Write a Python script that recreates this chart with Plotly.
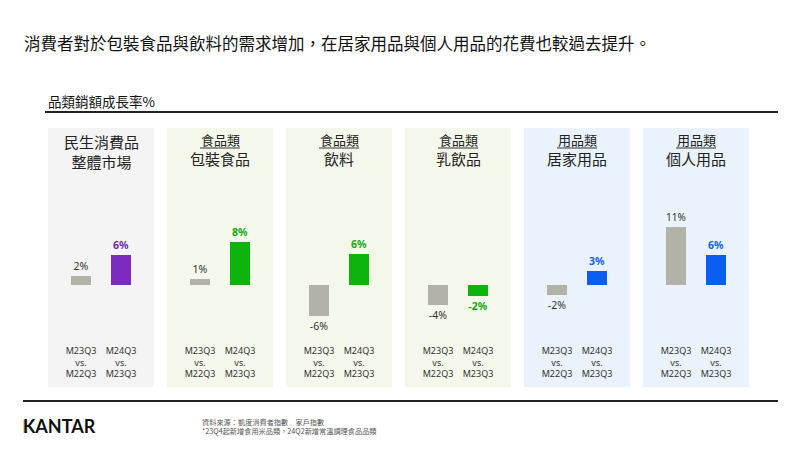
import plotly.graph_objects as go

# ---------------- data ----------------
panel_top = ["", "食品類", "食品類", "食品類", "用品類", "用品類"]
panel_main = ["民生消費品<br>整體市場", "包裝食品", "飲料", "乳飲品", "居家用品", "個人用品"]
periods = ["M23Q3<br>vs.<br>M22Q3", "M24Q3<br>vs.<br>M23Q3"]
prev_growth = [1.7, 1.1, -5.8, -3.8, -1.9, 10.9]
curr_growth = [5.7, 8.2, 5.8, -2.1, 2.6, 5.6]
prev_labels = ["2%", "1%", "-6%", "-4%", "-2%", "11%"]
curr_labels = ["6%", "8%", "6%", "-2%", "3%", "6%"]

# ---------------- styles ----------------
W, H = 800, 450
grey_bar = "#B2B2A7"
accent = ["#7B2CBF", "#0DB30D", "#0DB30D", "#0DB30D", "#0A5EF0", "#0A5EF0"]
accent_text = ["#6E2AAE", "#12A812", "#12A812", "#12A812", "#1560E8", "#1560E8"]
panel_bg = ["#F4F4F4", "#F4F8EB", "#F4F8EB", "#F4F8EB", "#E9F2FD", "#E9F2FD"]
CJK = "Noto Sans CJK TC"
LAT = "Noto Sans"

def px_x(v):
    return v / W

def px_y(v):
    return 1 - v / H

panel_left0, panel_step, panel_w = 48, 119, 106
panel_y0, panel_y1 = 128, 387
plot_y0, plot_y1 = 128, 344
px_per_pct = 5.3
zero_px = 285
y_hi = (zero_px - plot_y0) / px_per_pct
y_lo = -(plot_y1 - zero_px) / px_per_pct
x_half = panel_w / 40 / 2

fig = go.Figure()
shapes = []
annotations = []

for i in range(6):
    n = "" if i == 0 else str(i + 1)
    left = panel_left0 + i * panel_step
    fig.add_trace(go.Bar(
        x=periods,
        y=[prev_growth[i], curr_growth[i]],
        text=[prev_labels[i], curr_labels[i]],
        texttemplate=["%{text}", "<b>%{text}</b>"],
        textposition="outside",
        textfont=dict(family=LAT, size=10.5, color=["#333333", accent_text[i]]),
        marker=dict(color=[grey_bar, accent[i]], line=dict(width=0)),
        width=0.5,
        cliponaxis=False,
        hoverinfo="skip",
        showlegend=False,
        xaxis="x" + n,
        yaxis="y" + n,
    ))
    fig.update_layout(**{
        "xaxis" + n: dict(
            domain=[px_x(left), px_x(left + panel_w)],
            range=[0.5 - x_half, 0.5 + x_half],
            showgrid=False, zeroline=False, showline=False, ticks="",
            tickfont=dict(family=LAT, size=9, color="#333333"),
            anchor="y" + n, fixedrange=True,
        ),
        "yaxis" + n: dict(
            domain=[px_y(plot_y1), px_y(plot_y0)],
            range=[y_lo, y_hi],
            showgrid=False, zeroline=False, showticklabels=False,
            anchor="x" + n, fixedrange=True,
        ),
    })
    shapes.append(dict(
        type="rect", xref="paper", yref="paper", layer="below",
        x0=px_x(left), x1=px_x(left + panel_w),
        y0=px_y(panel_y1), y1=px_y(panel_y0),
        fillcolor=panel_bg[i], line=dict(width=0),
    ))
    cx = px_x(left + panel_w / 2)
    if panel_top[i]:
        annotations.append(dict(
            text=panel_top[i], x=cx, y=px_y(139.5), xref="paper", yref="paper",
            showarrow=False, xanchor="center", yanchor="middle",
            font=dict(family=CJK, size=13, color="#222222"),
        ))
        shapes.append(dict(
            type="line", xref="paper", yref="paper",
            x0=px_x(left + panel_w / 2 - 20), x1=px_x(left + panel_w / 2 + 20),
            y0=px_y(148), y1=px_y(148), line=dict(color="#333333", width=1),
        ))
        annotations.append(dict(
            text=panel_main[i], x=cx, y=px_y(158.5), xref="paper", yref="paper",
            showarrow=False, xanchor="center", yanchor="middle",
            font=dict(family=CJK, size=15, color="#222222"),
        ))
    else:
        annotations.append(dict(
            text=panel_main[i], x=cx, y=px_y(152), xref="paper", yref="paper",
            showarrow=False, xanchor="center", yanchor="middle",
            font=dict(family=CJK, size=15, color="#222222"),
        ))

# headline and subtitle
annotations.append(dict(
    text="消費者對於包裝食品與飲料的需求增加，在居家用品與個人用品的花費也較過去提升。",
    x=px_x(22), y=px_y(43), xref="paper", yref="paper", showarrow=False,
    xanchor="left", yanchor="middle", font=dict(family=CJK, size=16.5, color="#111111"),
))
annotations.append(dict(
    text="品類銷額成長率%", x=px_x(46), y=px_y(101), xref="paper", yref="paper",
    showarrow=False, xanchor="left", yanchor="middle",
    font=dict(family=CJK, size=13.5, color="#111111"),
))
shapes.append(dict(type="line", xref="paper", yref="paper",
                   x0=px_x(45), x1=px_x(778), y0=px_y(112), y1=px_y(112),
                   line=dict(color="#222222", width=2)))
shapes.append(dict(type="line", xref="paper", yref="paper",
                   x0=px_x(23), x1=px_x(778), y0=px_y(401), y1=px_y(401),
                   line=dict(color="#222222", width=2)))

# footer
annotations.append(dict(
    text="<b>KANTAR</b>", x=px_x(21), y=px_y(426), xref="paper", yref="paper",
    showarrow=False, xanchor="left", yanchor="middle",
    font=dict(family="Lato", size=18, color="#111111"),
))
shapes.append(dict(type="rect", xref="paper", yref="paper", layer="above",
                   x0=px_x(23.5), x1=px_x(25.5), y0=px_y(433), y1=px_y(419.5),
                   fillcolor="#C9A84A", line=dict(width=0)))
annotations.append(dict(
    text="資料來源：凱度消費者指數　家戶指數<br>*23Q4起新增食用米品類，24Q2新增常溫調理食品品類",
    x=px_x(200), y=px_y(426), xref="paper", yref="paper", showarrow=False,
    xanchor="left", yanchor="middle", align="left",
    font=dict(family=CJK, size=7.2, color="#555555"),
))

fig.update_layout(
    width=W, height=H,
    margin=dict(l=0, r=0, t=0, b=0),
    paper_bgcolor="white", plot_bgcolor="rgba(0,0,0,0)",
    shapes=shapes, annotations=annotations,
    bargap=0, showlegend=False,
)

fig.write_html(
    "out.html",
    config={"displayModeBar": False},
    post_script="document.body.style.margin='0';document.body.style.overflow='hidden';",
)
